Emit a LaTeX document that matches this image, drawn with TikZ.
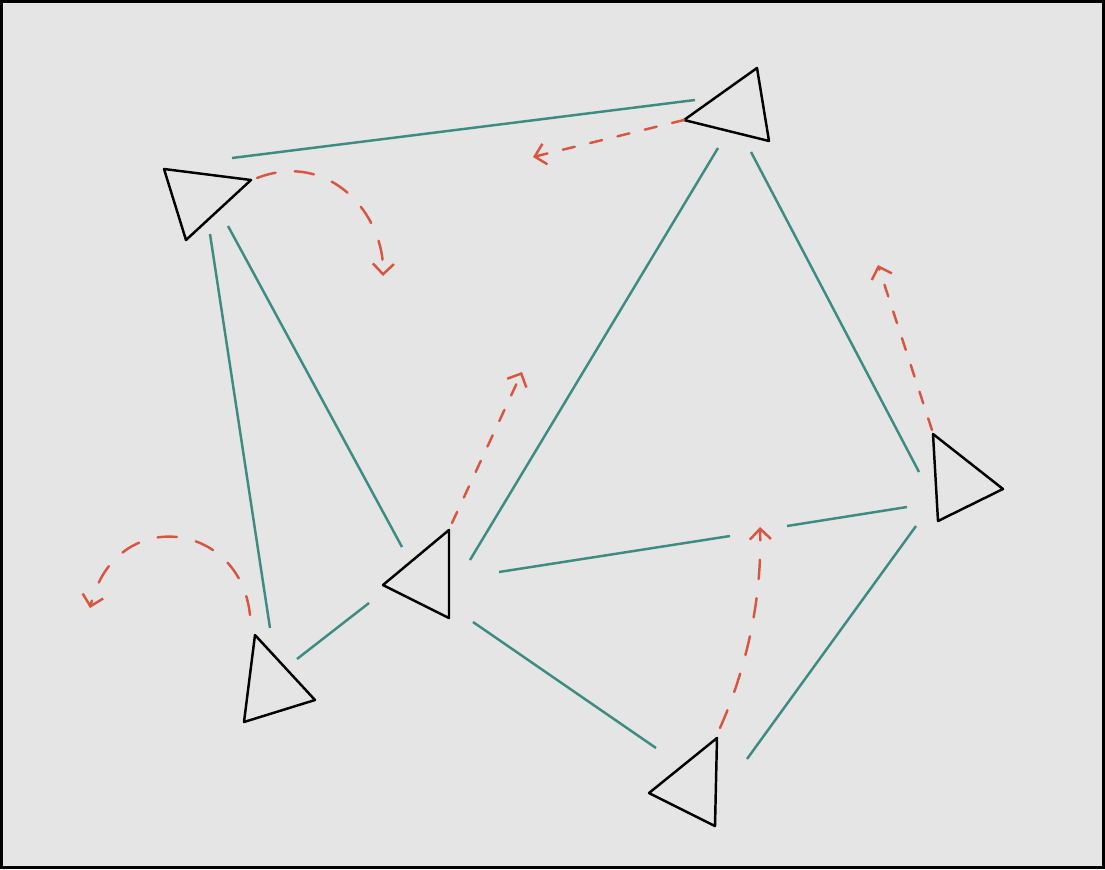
\documentclass[tikz,border=0pt]{standalone}
\usepackage{tikz}
\usetikzlibrary{arrows.meta, calc}
\definecolor{panelbg}{RGB}{229, 229, 229}
\definecolor{linkteal}{RGB}{60, 140, 130}
\definecolor{movered}{RGB}{217, 85, 64}

\begin{document}
\begin{tikzpicture}[
    x=0.02cm, y=-0.02cm,
    robot/.style={draw=black, line width=1.4pt, line join=round},
    link/.style={draw=linkteal, line width=1.4pt},
    move/.style={draw=movered, line width=1.4pt, line cap=round, dash pattern=on 11pt off 11pt, -{Straight Barb[length=6pt, width=12pt]}},
    shortmove/.style={move, dash pattern=on 7pt off 9pt}
]

    % frame
    \useasboundingbox (0,0) rectangle (1105,869);
    \fill[panelbg] (0,0) rectangle (1105,869);
    \draw[black, line width=1.2pt] (1.5,1.5) rectangle (1103.5,867.5);

    % robots
    \coordinate (r1a) at (164,169); \coordinate (r1b) at (251,180); \coordinate (r1c) at (186,240);
    \coordinate (r2a) at (684,120); \coordinate (r2b) at (757,68);  \coordinate (r2c) at (769,141);
    \coordinate (r3a) at (383,585); \coordinate (r3b) at (449,530); \coordinate (r3c) at (449,618);
    \coordinate (r4a) at (255,635); \coordinate (r4b) at (315,700); \coordinate (r4c) at (244,722);
    \coordinate (r5a) at (933,434); \coordinate (r5b) at (1003,489); \coordinate (r5c) at (938,521);
    \coordinate (r6a) at (649,793); \coordinate (r6b) at (717,738); \coordinate (r6c) at (715,826);
    \foreach \r in {r1,r2,r3,r4,r5,r6}
        \draw[robot] (\r a) -- (\r b) -- (\r c) -- cycle;

    % links
    \coordinate (l1s) at (232,158); \coordinate (l1e) at (695,100);
    \coordinate (l2s) at (210,234); \coordinate (l2e) at (270,628);
    \coordinate (l3s) at (228,226); \coordinate (l3e) at (402,547);
    \coordinate (l4s) at (718,148); \coordinate (l4e) at (470,560);
    \coordinate (l5s) at (751,152); \coordinate (l5e) at (919,472);
    \coordinate (l6s) at (499,572); \coordinate (l6m) at (730,536);
    \coordinate (l6n) at (787,526); \coordinate (l6e) at (907,507);
    \coordinate (l7s) at (297,659); \coordinate (l7e) at (369,603);
    \coordinate (l8s) at (473,622); \coordinate (l8e) at (656,748);
    \coordinate (l9s) at (747,759); \coordinate (l9e) at (916,526);
    \foreach \l in {l1,l2,l3,l4,l5,l7,l8,l9}
        \draw[link] (\l s) -- (\l e);
    \draw[link] (l6s) -- (l6m);
    \draw[link] (l6n) -- (l6e);

    % moves
    \coordinate (m1) at (383,276);
    \coordinate (m2) at (90,608);
    \coordinate (m3) at (522,372);
    \coordinate (m4) at (533,157);
    \coordinate (m5) at (760,527);
    \coordinate (m6) at (878,265);
    \draw[move] (257,178) .. controls (330,150) and (385,215) .. (m1);
    \draw[move] (250,615) .. controls (240,520) and (115,505) .. (m2);
    \draw[shortmove] (452,523) -- (m3);
    \draw[shortmove] (r2a) -- (m4);
    \draw[move] (720,728) .. controls (750,660) and (762,590) .. (m5);
    \draw[shortmove] (932,430) -- (m6);

\end{tikzpicture}
\end{document}
